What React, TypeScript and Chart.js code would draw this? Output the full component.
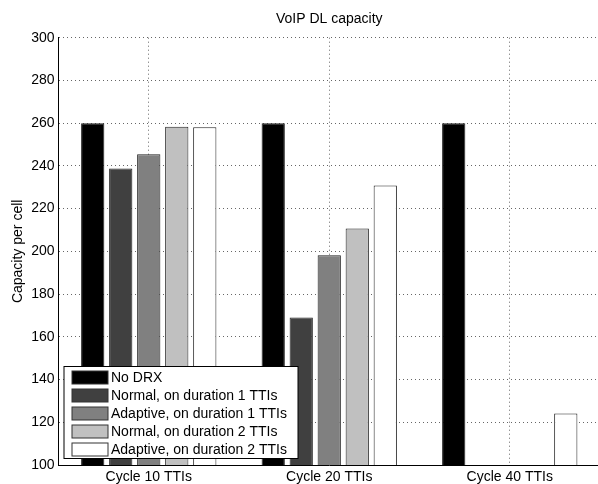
import React, { useEffect, useRef } from "react";
import { Chart, registerables } from "chart.js";

Chart.register(...registerables);

const categories = ["Cycle 10 TTIs", "Cycle 20 TTIs", "Cycle 40 TTIs"];
const seriesLabels = [
  "No DRX",
  "Normal, on duration 1 TTIs",
  "Adaptive, on duration 1 TTIs",
  "Normal, on duration 2 TTIs",
  "Adaptive, on duration 2 TTIs",
];
const noDrx = [260, 260, 260];
const normal1 = [238.8, 169, null];
const adaptive1 = [245.4, 198.2, null];
const normal2 = [258.3, 210.7, null];
const adaptive2 = [258.1, 230.8, 124.1];
const seriesColors = ["#000000", "#404040", "#808080", "#c0c0c0", "#ffffff"];
const yTicks = [100, 120, 140, 160, 180, 200, 220, 240, 260, 280, 300];

const FONT = "'Liberation Sans', Arial, Helvetica, sans-serif";

const boxLegend = {
  id: "boxLegend",
  afterDatasetsDraw(chart: any) {
    const ctx = chart.ctx;
    const area = chart.chartArea;
    const ds = chart.data.datasets;
    const x0 = area.left + 5.5;
    const y0 = area.bottom - 98.5;
    const w = 234;
    const h = 92;
    ctx.save();
    ctx.fillStyle = "#ffffff";
    ctx.fillRect(x0, y0, w, h);
    ctx.strokeStyle = "#000000";
    ctx.lineWidth = 1;
    ctx.strokeRect(x0, y0, w, h);
    ctx.font = `14px ${FONT}`;
    ctx.textBaseline = "middle";
    ctx.textAlign = "left";
    ds.forEach((d: any, i: number) => {
      const sy = y0 + 4.5 + i * 18;
      ctx.fillStyle = d.backgroundColor;
      ctx.fillRect(x0 + 8, sy, 36, 13);
      ctx.strokeStyle = "#333333";
      ctx.strokeRect(x0 + 8, sy, 36, 13);
      ctx.fillStyle = "#000000";
      ctx.fillText(d.label, x0 + 47, sy + 7);
    });
    ctx.restore();
  },
};

export default function App() {
  const ref = useRef<HTMLCanvasElement>(null);
  useEffect(() => {
    if (!ref.current) return;
    const values = [noDrx, normal1, adaptive1, normal2, adaptive2];
    const chart = new Chart(ref.current, {
      type: "bar",
      data: {
        labels: categories,
        datasets: values.map((v, i) => ({
          label: seriesLabels[i],
          data: v,
          backgroundColor: seriesColors[i],
          borderColor: "#222222",
          borderWidth: 1,
          categoryPercentage: 0.776,
          barPercentage: 0.83,
        })),
      },
      options: {
        responsive: false,
        animation: false,
        devicePixelRatio: 1,
        layout: { padding: { top: 0, right: 10, left: 0, bottom: 0 } },
        plugins: {
          legend: { display: false },
          tooltip: { enabled: false },
          title: {
            display: true,
            text: "VoIP DL capacity",
            fullSize: false,
            color: "#000",
            font: { family: FONT, size: 14, weight: "normal" },
            padding: { top: 11, bottom: 9.9 },
          },
        },
        scales: {
          x: {
            type: "category",
            offset: true,
            grid: {
              offset: false,
              drawTicks: false,
              color: "#666666",
              lineWidth: 1,
            },
            border: { display: true, color: "#000", width: 1, dash: [1, 3] },
            ticks: {
              color: "#000",
              padding: 4,
              font: { family: FONT, size: 14 },
            },
            afterFit: (s: any) => {
              s.height = 19;
            },
          },
          y: {
            min: 100,
            max: 300,
            afterBuildTicks: (s: any) => {
              s.ticks = yTicks.map((v) => ({ value: v }));
            },
            grid: { drawTicks: false, color: "#666666", lineWidth: 1 },
            border: { display: true, color: "#000", width: 1, dash: [1, 3] },
            ticks: {
              color: "#000",
              padding: 4,
              font: { family: FONT, size: 14 },
            },
            title: {
              display: true,
              text: "Capacity per cell",
              color: "#000",
              font: { family: FONT, size: 14 },
              padding: { top: 9.6, bottom: 0 },
            },
            afterFit: (s: any) => {
              s.width = 58.5;
            },
          },
        },
      },
      plugins: [boxLegend],
    });
    return () => chart.destroy();
  }, []);
  return (
    <div
      style={{
        position: "fixed",
        left: 0,
        top: 0,
        width: 598,
        height: 484,
        overflow: "hidden",
        background: "#fff",
      }}
    >
      <canvas ref={ref} width={610} height={484} style={{ display: "block" }} />
    </div>
  );
}
